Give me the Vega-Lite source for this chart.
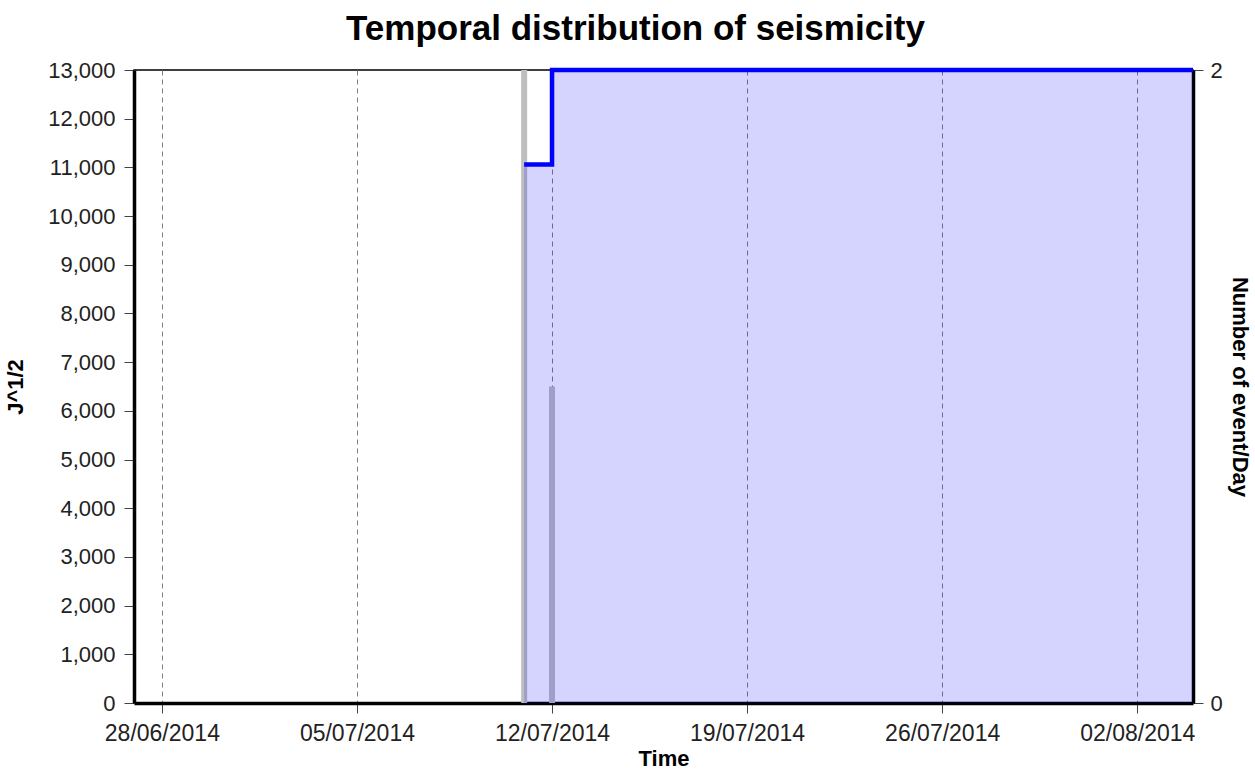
{
  "$schema": "https://vega.github.io/schema/vega-lite/v6.json",
  "width": 1059,
  "height": 633,
  "autosize": {"type": "none"},
  "padding": {"left": 134, "top": 70, "right": 62, "bottom": 70},
  "background": "white",
  "title": {"text": "Temporal distribution of seismicity", "font": "Liberation Sans", "fontSize": 35, "fontWeight": "bold", "color": "#000000", "anchor": "middle", "offset": 12, "dx": -28},
  "config": {
    "view": {"stroke": "#000000", "strokeWidth": 1.5},
    "axis": {"labelFont": "Liberation Sans", "labelFontSize": 22, "labelColor": "#222222", "titleFont": "Liberation Sans", "titleFontSize": 22, "titleFontWeight": "bold", "titleColor": "#000000", "domainColor": "#000000", "domainWidth": 3.5, "tickColor": "#444444", "tickSize": 10, "tickWidth": 1, "zindex": 1}
  },
  "datasets": {
    "counts": [
      {"date": "2014-07-11", "events": 2},
      {"date": "2014-07-12", "events": 1}
    ],
    "strain": [
      {"date": "2014-07-11", "sqrtJ": 11060},
      {"date": "2014-07-12", "sqrtJ": 13000},
      {"date": "2014-08-04", "sqrtJ": 13000}
    ]
  },
  "layer": [
    {
      "data": {"name": "counts", "format": {"parse": {"date": "utc:'%Y-%m-%d'"}}},
      "mark": {"type": "bar", "size": 6, "color": "#bebebe"},
      "encoding": {
        "x": {
          "field": "date", "type": "temporal",
          "scale": {"type": "utc", "padding": 0, "domain": [{"year": 2014, "month": 6, "date": 27, "utc": true}, {"year": 2014, "month": 8, "date": 4, "utc": true}]},
          "axis": {
            "title": "Time", "format": "%d/%m/%Y",
            "values": [
              {"year": 2014, "month": 6, "date": 28, "utc": true},
              {"year": 2014, "month": 7, "date": 5, "utc": true},
              {"year": 2014, "month": 7, "date": 12, "utc": true},
              {"year": 2014, "month": 7, "date": 19, "utc": true},
              {"year": 2014, "month": 7, "date": 26, "utc": true},
              {"year": 2014, "month": 8, "date": 2, "utc": true}
            ],
            "labelFontSize": 23,
            "grid": true, "gridDash": [5, 4], "gridColor": "#808080", "gridWidth": 1,
            "labelPadding": 9, "titlePadding": 3
          }
        },
        "y": {
          "field": "events", "type": "quantitative",
          "scale": {"domain": [0, 2], "nice": false},
          "axis": {"orient": "right", "title": "Number of event/Day", "titleAngle": 90, "values": [0, 1, 2], "format": "d", "grid": false, "labelPadding": 7, "titlePadding": 5}
        }
      }
    },
    {
      "data": {"name": "strain", "format": {"parse": {"date": "utc:'%Y-%m-%d'"}}},
      "mark": {"type": "area", "interpolate": "step-after", "color": "#0000ff", "fillOpacity": 0.17, "line": {"color": "#0000ff", "strokeWidth": 4.5, "opacity": 1}},
      "encoding": {
        "x": {"field": "date", "type": "temporal"},
        "y": {
          "field": "sqrtJ", "type": "quantitative",
          "scale": {"domain": [0, 13000], "nice": false},
          "axis": {"orient": "left", "title": "J^1/2", "values": [0, 1000, 2000, 3000, 4000, 5000, 6000, 7000, 8000, 9000, 10000, 11000, 12000, 13000], "format": ",d", "grid": false, "labelPadding": 9, "titlePadding": 20}
        }
      }
    }
  ],
  "resolve": {"scale": {"y": "independent"}}
}
